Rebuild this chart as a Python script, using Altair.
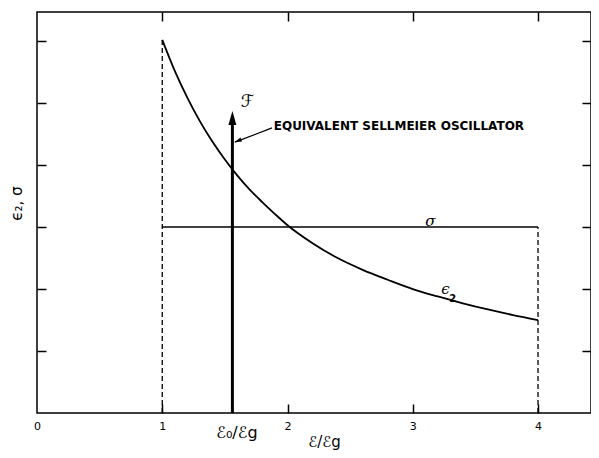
import altair as alt
import pandas as pd

# ---- data ----
eps_x = [1.0, 1.1, 1.2, 1.3, 1.4, 1.5, 1.6, 1.7, 1.8, 1.9, 2.0, 2.2, 2.4, 2.6, 2.8, 3.0, 3.2, 3.4, 3.6, 3.8, 4.0]
eps_y = [6.02, 5.52, 5.09, 4.71, 4.38, 4.09, 3.83, 3.6, 3.4, 3.21, 3.03, 2.74, 2.5, 2.31, 2.15, 2.0, 1.88, 1.77, 1.67, 1.58, 1.5]

sigma_x = [1.0, 4.0]
sigma_y = [3.0, 3.0]

edge_x = [1.0, 4.0]      # dashed band edges
edge_top = [6.02, 3.0]

osc_x = 1.56             # E0/Eg
osc_top = 4.72
osc_head = 4.76

ptr_x = [1.58, 1.876]
ptr_y = [4.37, 4.60]
ptr_head = (1.603, 4.39)

x_ticks = [0, 1, 2, 3, 4]
x_inner_ticks = [1, 2, 3, 4]
y_ticks = [1, 2, 3, 4, 5, 6]

X_DOM = [0, 4.423]
Y_DOM = [0, 6.47]
W, H = 554, 401

FONT = "DejaVu Sans"


def sx():
    return alt.Scale(domain=X_DOM, nice=False, zero=False)


def sy():
    return alt.Scale(domain=Y_DOM, nice=False, zero=False)


def X(field, axis=None):
    return alt.X(field, type="quantitative", scale=sx(), axis=axis)


def Y(field, axis=None):
    return alt.Y(field, type="quantitative", scale=sy(), axis=axis)


def tick_axis(orient, offset, values):
    return alt.Axis(orient=orient, offset=offset, values=values, labels=False,
                    domain=False, grid=False, ticks=True, tickSize=9,
                    tickWidth=1.5, tickColor="black", title=None)


eps_df = pd.DataFrame({"x": eps_x, "y": eps_y})
sig_df = pd.DataFrame({"x": sigma_x, "y": sigma_y})
edge_df = pd.DataFrame({"x": edge_x, "y0": [0, 0], "y1": edge_top})
osc_df = pd.DataFrame({"x": [osc_x], "y0": [0], "y1": [osc_top], "yh": [osc_head]})
ptr_df = pd.DataFrame({"x": [ptr_x[0]], "x2": [ptr_x[1]], "y": [ptr_y[0]], "y2": [ptr_y[1]]})
ptrh_df = pd.DataFrame({"x": [ptr_head[0]], "y": [ptr_head[1]]})

# main curve, with bottom labels + both titles
axis_bottom = alt.Axis(orient="bottom", values=x_ticks, format="d", ticks=False, tickSize=0,
                       domain=False, grid=False, labelPadding=7, labelFontSize=11,
                       labelFont=FONT, labelColor="black", labelFlush=False,
                       title="ℰ/ℰg", titleFont=FONT, titleFontSize=15, titleFontWeight="normal",
                       titleColor="black", titleX=287, titleY=28, titleBaseline="middle")
axis_left = alt.Axis(orient="left", labels=False, ticks=False, domain=False, grid=False,
                     title="ϵ₂, σ", titleFont=FONT, titleFontSize=15, titleFontWeight="normal",
                     titleColor="black", titleX=-21, titleY=191, titleAngle=270,
                     titleBaseline="middle", titleAlign="center")

curve = alt.Chart(eps_df).mark_line(color="black", strokeWidth=1.8, interpolate="monotone").encode(
    x=X("x", axis_bottom), y=Y("y", axis_left))

axis_e0 = alt.Axis(orient="bottom", values=[osc_x], labelExpr="'ℰ₀/ℰg'", ticks=False, tickSize=0,
                   domain=False, grid=False, labelPadding=11, labelFontSize=16, labelFont=FONT,
                   labelColor="black", labelFlush=False, labelOffset=4, title=None)
sigma = alt.Chart(sig_df).mark_line(color="black", strokeWidth=1.5).encode(
    x=X("x", axis_e0), y=Y("y", tick_axis("right", -W, y_ticks)))

edges = alt.Chart(edge_df).mark_rule(color="black", strokeWidth=1.3, strokeDash=[5, 3]).encode(
    x=X("x", tick_axis("top", -H, x_inner_ticks)),
    y=Y("y0", tick_axis("left", -W, y_ticks)), y2="y1")

shaft = alt.Chart(osc_df).mark_rule(color="black", strokeWidth=3).encode(
    x=X("x", tick_axis("bottom", -H, x_inner_ticks)), y=Y("y0"), y2="y1")

ARROW = "M0,-1L0.57,1L-0.57,1Z"
head = alt.Chart(osc_df).mark_point(shape=ARROW, filled=True, size=196, color="black", opacity=1).encode(
    x=X("x"), y=Y("yh"))

ptr = alt.Chart(ptr_df).mark_rule(color="black", strokeWidth=1.2).encode(
    x=X("x"), x2="x2", y=Y("y"), y2="y2")
ptr_h = alt.Chart(ptrh_df).mark_point(shape=ARROW, filled=True, size=56, color="black", opacity=1,
                                       angle=249).encode(x=X("x"), y=Y("y"))

labels_df = pd.DataFrame({
    "x": [1.68, 1.89],
    "y": [5.02, 4.63],
    "t": ["ℱ", "EQUIVALENT SELLMEIER OSCILLATOR"],
})
f_txt = alt.Chart(labels_df.iloc[[0]]).mark_text(font=FONT, fontSize=17, color="black").encode(
    x=X("x"), y=Y("y"), text="t")
eq_txt = alt.Chart(labels_df.iloc[[1]]).mark_text(font=FONT, fontSize=12, fontWeight="bold",
                                                  align="left", baseline="middle", color="black").encode(
    x=X("x"), y=Y("y"), text="t")

sym_df = pd.DataFrame({"x": [3.14, 3.26], "y": [3.1, 2.0], "t": ["σ", "ϵ"]})
sym_txt = alt.Chart(sym_df).mark_text(font="DejaVu Serif", fontSize=15, fontStyle="italic",
                                      baseline="middle", color="black").encode(
    x=X("x"), y=Y("y"), text="t")
sub_df = pd.DataFrame({"x": [3.32], "y": [1.84], "t": ["2"]})
sub_txt = alt.Chart(sub_df).mark_text(font=FONT, fontSize=10, fontWeight="bold",
                                      baseline="middle", color="black").encode(
    x=X("x"), y=Y("y"), text="t")

chart = alt.layer(curve, sigma, edges, shaft, head, ptr, ptr_h, f_txt, eq_txt, sym_txt, sub_txt).resolve_axis(
    x="independent", y="independent"
).properties(
    width=W, height=H,
    autosize=alt.AutoSizeParams(type="none"),
    padding={"left": 29, "top": 4, "right": 0, "bottom": 37},
    background="white",
).configure_view(stroke="black", strokeWidth=1.5)

chart.save("out.html", embed_options={"renderer": "svg", "actions": False})
